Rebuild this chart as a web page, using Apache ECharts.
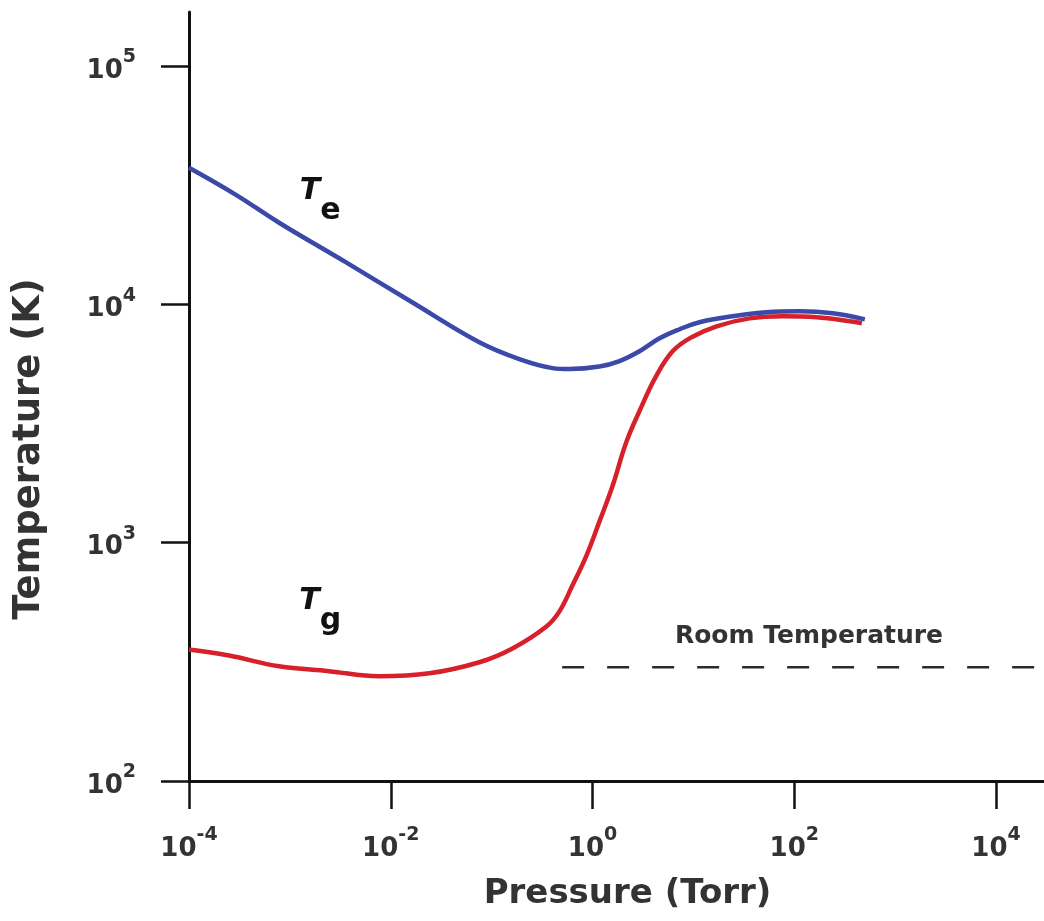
<!DOCTYPE html>
<html>
<head>
<meta charset="utf-8">
<title>Temperature vs pressure</title>
<script src="https://cdn.jsdelivr.net/npm/echarts@6/dist/echarts.min.js"></script>
<style>
  html, body { margin: 0; padding: 0; background: #fff; }
  #chart { width: 1044px; height: 921px; }
</style>
</head>
<body>
<div id="chart"></div>
<script>
// electron temperature Te (blue)
var pressureTe = [1e-4, 2.92e-4, 7.82e-4, 3.61e-3, 0.0163, 0.0755, 0.188, 0.401, 0.59, 1.17, 1.85, 2.93, 4.62, 7.31, 11.5, 24.5, 53.3, 113, 241, 501];
var tempTe = [37400, 28800, 22000, 15000, 10200, 6930, 5890, 5400, 5350, 5480, 5780, 6360, 7200, 7860, 8410, 8910, 9270, 9350, 9170, 8650];

// gas temperature Tg (red)
var pressureTg = [1e-4, 2.49e-4, 7.82e-4, 2.45e-3, 7.69e-3, 0.0241, 0.0755, 0.161, 0.349, 0.47, 0.632, 0.871, 1.17, 1.58, 2.17, 2.99, 4.22, 6.22, 9.6, 17.0, 36.1, 76.9, 167, 356, 468];
var tempTg = [356, 336, 303, 289, 275, 283, 315, 360, 445, 515, 661, 883, 1225, 1730, 2650, 3640, 4950, 6350, 7280, 8090, 8730, 8910, 8830, 8500, 8330];

// axis ends (the axis lines run past the last decade tick)
var xMax = 2.99e4;
var yMax = 1.685e5;

// room temperature reference (dashed)
var roomP = [0.5, xMax];
var roomT = [300, 300];

// text annotations
var labelNames = ['Te', 'Tg', 'Room Temperature'];
var labelP = [2.0e-3, 2.0e-3, 140];
var labelT = [27200, 514, 405];

function pairs(xs, ys) {
  return xs.map(function (x, i) { return [x, ys[i]]; });
}

function powLabel(v) {
  var e = Math.round(Math.log10(v));
  return '{b|10}{s|' + e + '}';
}

var font = 'DejaVu Sans';
var ink = '#111';
var tickRich = {
  b: { fontFamily: font, fontSize: 26, fontWeight: 'bold', color: '#333', lineHeight: 36, verticalAlign: 'bottom' },
  s: { fontFamily: font, fontSize: 19, fontWeight: 'bold', color: '#333', lineHeight: 36, verticalAlign: 'top' }
};
var hidden = { show: false };

var chart = echarts.init(document.getElementById('chart'));
chart.setOption({
  animation: false,
  backgroundColor: '#fff',
  textStyle: { fontFamily: font },
  grid: [
    // full frame: long axis lines
    { left: 189, right: 0, top: 12, bottom: 140 },
    // decade ticks and labels
    { left: 189, right: 48, top: 66, bottom: 140 }
  ],
  xAxis: [
    {
      gridIndex: 0, type: 'log', min: 1e-4, max: xMax,
      axisLine: { show: true, onZero: false, lineStyle: { color: ink, width: 3 } },
      axisTick: hidden, axisLabel: hidden, splitLine: hidden
    },
    {
      gridIndex: 1, type: 'log', logBase: 100, min: 1e-4, max: 1e4,
      axisLine: { show: false, onZero: false },
      axisTick: { show: true, length: 28, lineStyle: { color: ink, width: 2.5 } },
      axisLabel: { margin: 45, formatter: powLabel, rich: tickRich },
      splitLine: hidden,
      name: 'Pressure (Torr)',
      nameLocation: 'middle',
      nameGap: 96,
      nameTextStyle: { fontFamily: font, fontSize: 34, fontWeight: 'bold', color: '#333', padding: [0, 0, 0, 70] }
    }
  ],
  yAxis: [
    {
      gridIndex: 0, type: 'log', min: 100, max: yMax,
      axisLine: { show: true, onZero: false, lineStyle: { color: ink, width: 3 } },
      axisTick: hidden, axisLabel: hidden, splitLine: hidden
    },
    {
      gridIndex: 1, type: 'log', logBase: 10, min: 100, max: 1e5,
      axisLine: { show: false, onZero: false },
      axisTick: { show: true, length: 28, lineStyle: { color: ink, width: 2.5 } },
      axisLabel: { margin: 53, formatter: powLabel, rich: tickRich },
      splitLine: hidden,
      name: 'Temperature (K)',
      nameLocation: 'middle',
      nameGap: 141,
      nameTextStyle: { fontFamily: font, fontSize: 37, fontWeight: 'bold', color: '#333', padding: [0, 51, 0, 0] }
    }
  ],
  series: [
    {
      name: 'Room', type: 'line', xAxisIndex: 0, yAxisIndex: 0,
      data: pairs(roomP, roomT),
      symbol: 'none',
      lineStyle: { color: '#2b2b2b', width: 2.5, type: [22, 23] }
    },
    {
      name: 'Tg', type: 'line', xAxisIndex: 1, yAxisIndex: 1,
      data: pairs(pressureTg, tempTg),
      smooth: 0.4, symbol: 'none',
      lineStyle: { color: '#d7202a', width: 4.5 }
    },
    {
      name: 'Te', type: 'line', xAxisIndex: 1, yAxisIndex: 1,
      data: pairs(pressureTe, tempTe),
      smooth: 0.4, symbol: 'none',
      lineStyle: { color: '#3b4aa8', width: 4.5 }
    },
    {
      name: 'labels', type: 'scatter', xAxisIndex: 1, yAxisIndex: 1,
      silent: true, symbolSize: 0,
      itemStyle: { opacity: 1 },
      data: labelNames.map(function (n, i) { return { name: n, value: [labelP[i], labelT[i]] }; }),
      label: {
        show: true, position: 'inside', color: ink, textBorderWidth: 0,
        formatter: function (p) {
          if (p.name === 'Te') return '{t|T}{s|e}';
          if (p.name === 'Tg') return '{t|T}{s|g}';
          return '{r|' + p.name + '}';
        },
        rich: {
          t: { fontFamily: font, fontSize: 30, fontStyle: 'italic', fontWeight: 'bold', color: ink, lineHeight: 50, verticalAlign: 'top' },
          s: { fontFamily: font, fontSize: 30, fontWeight: 'bold', color: ink, lineHeight: 50, verticalAlign: 'bottom' },
          r: { fontFamily: font, fontSize: 25, fontWeight: 'bold', color: '#333' }
        }
      }
    }
  ]
});
</script>
</body>
</html>
